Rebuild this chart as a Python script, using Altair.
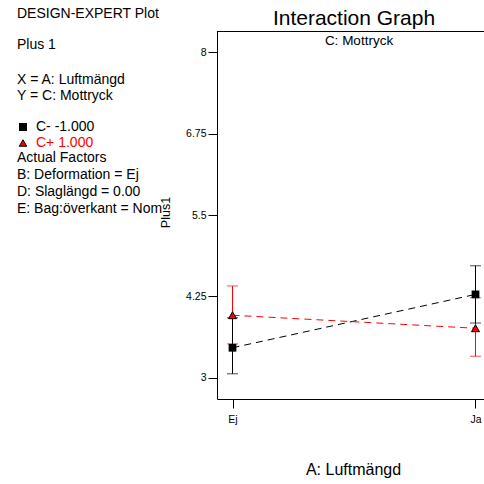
import altair as alt
import pandas as pd

# ---- data ----
levels = ["Ej", "Ja"]                    # A: Luftmängd
series = ["C-", "C+"]                    # C: Mottryck
mean_minus = [3.46, 4.28]
low_minus = [3.06, 3.84]
high_minus = [3.92, 4.72]
mean_plus = [3.96, 3.76]
low_plus = [3.52, 3.33]
high_plus = [4.41, 4.23]
y_ticks = [3, 4.25, 5.5, 6.75, 8]

rows = []
for i, lv in enumerate(levels):
    rows.append(dict(A=lv, idx=i, C="C-", mean=mean_minus[i], lo=low_minus[i], hi=high_minus[i]))
    rows.append(dict(A=lv, idx=i, C="C+", mean=mean_plus[i], lo=low_plus[i], hi=high_plus[i]))
df = pd.DataFrame(rows)

W, H = 267, 368
FONT = "Liberation Sans"
one = pd.DataFrame({"_": [0]})

xscale = alt.Scale(domain=[-0.06379, 1.03498], nice=False, zero=False)
yscale = alt.Scale(domain=[2.673, 8.327], nice=False, zero=False)
cscale = alt.Scale(domain=series, range=["#000000", "#ff0000"])

label_expr = "[" + ",".join("'" + l + "'" for l in levels) + "][datum.value]"

x_axis = alt.Axis(values=list(range(len(levels))), labelExpr=label_expr, title=None,
                  grid=False, tickSize=9, labelPadding=6, labelFontSize=10.5,
                  labelFont=FONT, labelColor="black", domainColor="black",
                  tickColor="black")
y_axis = alt.Axis(values=y_ticks, format=".3~f", title=None, grid=False,
                  tickSize=9, labelPadding=2, labelFontSize=10.5, labelFont=FONT,
                  labelColor="black", domainColor="black", tickColor="black")

base = alt.Chart(df)
X = alt.X("idx:Q", scale=xscale, axis=x_axis)

bars = base.mark_rule(strokeWidth=1).encode(
    x=X, y=alt.Y("lo:Q", scale=yscale, axis=y_axis), y2="hi:Q",
    color=alt.Color("C:N", scale=cscale, legend=None),
    order=alt.Order("C:N"))
caps_lo = base.mark_tick(orient="horizontal", size=11, thickness=1).encode(
    x=X, y=alt.Y("lo:Q", scale=yscale), color=alt.Color("C:N", scale=cscale, legend=None))
caps_hi = base.mark_tick(orient="horizontal", size=11, thickness=1).encode(
    x=X, y=alt.Y("hi:Q", scale=yscale), color=alt.Color("C:N", scale=cscale, legend=None))
lines = base.mark_line(strokeWidth=1, strokeDash=[7, 5]).encode(
    x=X, y=alt.Y("mean:Q", scale=yscale), color=alt.Color("C:N", scale=cscale, legend=None),
    detail="C:N")
sq = alt.Chart(df).transform_filter(alt.datum.C == "C-").mark_point(
    shape="square", filled=True, size=60, color="black", opacity=1).encode(
    x=X, y=alt.Y("mean:Q", scale=yscale))
tri = alt.Chart(df).transform_filter(alt.datum.C == "C+").mark_point(
    shape="triangle-up", filled=True, size=64, fill="#ff0000", stroke="black",
    strokeWidth=1, opacity=1).encode(
    x=X, y=alt.Y("mean:Q", scale=yscale))

top_border = alt.Chart(one).mark_rule(color="black", strokeWidth=1).encode(
    x=alt.value(0), x2=alt.value(W), y=alt.value(0.5))


def txt(t, x, y, size=14, color="black", align="left", baseline="middle", angle=0):
    return alt.Chart(one).mark_text(
        font=FONT, fontSize=size, color=color, align=align, baseline=baseline,
        angle=angle).encode(x=alt.value(x), y=alt.value(y), text=alt.value(t))


texts = [
    txt("DESIGN-EXPERT Plot", -200, -17),
    txt("Plus 1", -200, 14),
    txt("X = A: Luftmängd", -200, 49),
    txt("Y = C: Mottryck", -200, 65),
    txt("C- -1.000", -181, 96),
    txt("C+ 1.000", -181, 112, color="#ff0000"),
    txt("Actual Factors", -200, 127),
    txt("B: Deformation = Ej", -200, 143.5),
    txt("D: Slaglängd = 0.00", -200, 160.5),
    txt("E: Bag:överkant = Nom", -200, 177.5),
    txt("Interaction Graph", 137, -6, size=21, align="center", baseline="alphabetic"),
    txt("C: Mottryck", 142, 14, size=13.5, align="center", baseline="alphabetic"),
    txt("A: Luftmängd", 136.5, 444, size=16, align="center", baseline="alphabetic"),
    txt("Plus1", -51, 181.5, size=12.5, align="center", baseline="middle", angle=270),
]

leg_sq = alt.Chart(one).mark_point(shape="square", filled=True, size=64, color="black",
                                   opacity=1).encode(x=alt.value(-194), y=alt.value(96))
leg_tri = alt.Chart(one).mark_point(shape="triangle-up", filled=True, size=56, fill="#ff0000",
                                    stroke="black", strokeWidth=1, opacity=1).encode(
    x=alt.value(-194), y=alt.value(112))

chart = alt.layer(bars, caps_lo, caps_hi, lines, sq, tri, top_border, leg_sq, leg_tri,
                  *texts).properties(
    width=W, height=H,
    autosize=alt.AutoSizeParams(type="none"),
    padding={"left": 217, "top": 31, "right": 0, "bottom": 85},
    background="white",
).configure_view(stroke="transparent")

chart.save("out.html", embed_options={"renderer": "svg", "actions": False})
